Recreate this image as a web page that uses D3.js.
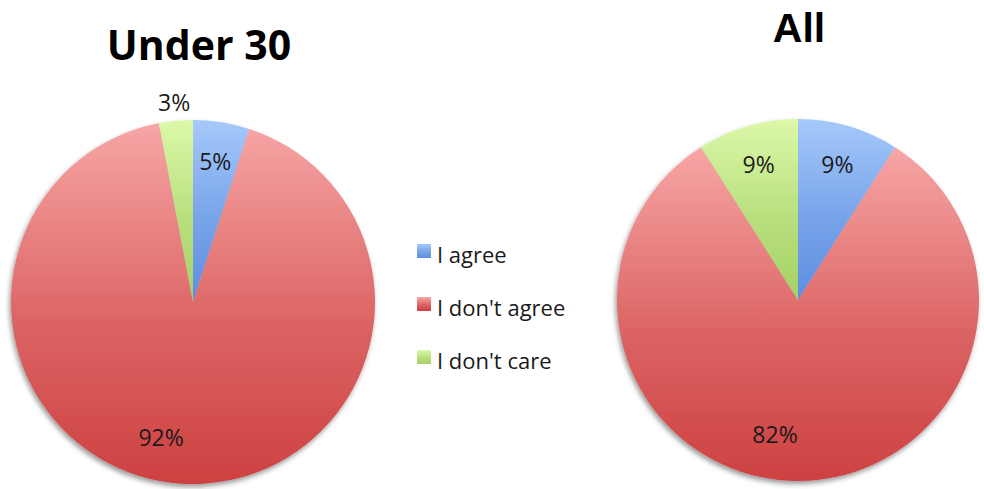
<!DOCTYPE html>
<html>
<head>
<meta charset="utf-8">
<script src="https://cdn.jsdelivr.net/npm/d3@7"></script>
<style>
  body { margin: 0; background: #fff; }
  svg { display: block; }
</style>
</head>
<body>
<div id="chart"></div>
<script>
// Data
var categories = ["I agree", "I don't agree", "I don't care"];
var under30Values = [5, 92, 3];
var allValues = [9, 82, 9];
var chartTitles = ["Under 30", "All"];

var width = 984, height = 489;

var svg = d3.select("#chart")
    .append("svg")
    .attr("width", width)
    .attr("height", height);

var defs = svg.append("defs");

// Vertical gradients per category, light at top, dark at bottom
var gradStops = [
    ["#a6c9fa", "#5d8ee0"],
    ["#f7a6a6", "#cd4141"],
    ["#dcf8a9", "#a5d166"]
];
gradStops.forEach(function (s, i) {
    var g = defs.append("linearGradient")
        .attr("id", "grad" + i)
        .attr("x1", 0).attr("y1", 0)
        .attr("x2", 0).attr("y2", 1);
    g.append("stop").attr("offset", "0%").attr("stop-color", s[0]);
    g.append("stop").attr("offset", "55%").attr("stop-color", d3.interpolateRgb(s[0], s[1])(0.65));
    g.append("stop").attr("offset", "100%").attr("stop-color", s[1]);
});

// soft drop shadow
var f = defs.append("filter").attr("id", "shadow")
    .attr("x", "-10%").attr("y", "-10%").attr("width", "120%").attr("height", "120%");
f.append("feDropShadow")
    .attr("dx", -1.5).attr("dy", 3)
    .attr("stdDeviation", 2.5)
    .attr("flood-color", "#000")
    .attr("flood-opacity", 0.4);

var color = d3.scaleOrdinal()
    .domain(categories)
    .range(categories.map(function (d, i) { return "url(#grad" + i + ")"; }));

var pie = d3.pie().sort(null).value(function (d) { return d.value; });

function drawPie(values, cx, cy, r, title, titleFont, titleSize, titleX, titleY, outsideIdx) {
    var g = svg.append("g").attr("transform", "translate(" + cx + "," + cy + ")");
    var data = categories.map(function (c, i) { return {key: c, value: values[i]}; });
    var arcs = pie(data);
    var arc = d3.arc().innerRadius(0).outerRadius(r);

    var slices = g.append("g").attr("filter", "url(#shadow)");
    slices.selectAll("path")
        .data(arcs)
        .enter()
        .append("path")
        .attr("d", arc)
        .attr("fill", function (d) { return color(d.data.key); });

    var labelArc = d3.arc().innerRadius(r * 0.78).outerRadius(r * 0.78);
    var outArc = d3.arc().innerRadius(r + 18).outerRadius(r + 18);

    g.selectAll("text.lbl")
        .data(arcs)
        .enter()
        .append("text")
        .attr("class", "lbl")
        .attr("transform", function (d, i) {
            var c = (i === outsideIdx) ? outArc.centroid(d) : labelArc.centroid(d);
            // best-fit style: big slice label sits left of the bottom
            if (c[1] > r * 0.5) { c[0] -= 23; c[1] -= 6; }
            return "translate(" + c[0] + "," + c[1] + ")";
        })
        .attr("text-anchor", "middle")
        .attr("dy", "0.36em")
        .style("font-family", "'Open Sans', sans-serif")
        .style("font-size", "23px")
        .style("fill", "#1a1a1a")
        .text(function (d) { return d.data.value + "%"; });

    svg.append("text")
        .attr("x", titleX)
        .attr("y", titleY)
        .attr("text-anchor", "middle")
        .style("font-family", titleFont)
        .style("font-weight", "bold")
        .style("font-size", titleSize + "px")
        .style("fill", "#000")
        .text(title);
}

drawPie(under30Values, 193, 302, 182, chartTitles[0], "'Open Sans', sans-serif", 41, 199, 60, 2);
drawPie(allValues, 798, 300, 181, chartTitles[1], "'Liberation Sans', Arial, sans-serif", 41, 799, 42, -1);

// Legend
var legend = svg.append("g").attr("transform", "translate(417,251)");
var rows = legend.selectAll("g")
    .data(categories)
    .enter()
    .append("g")
    .attr("transform", function (d, i) { return "translate(0," + (i * 53) + ")"; });

rows.append("rect")
    .attr("x", 0).attr("y", -7)
    .attr("width", 14).attr("height", 14)
    .attr("fill", function (d) { return color(d); });

rows.append("text")
    .attr("x", 20)
    .attr("y", 12)
    .style("font-family", "'Open Sans', sans-serif")
    .style("font-size", "22px")
    .style("fill", "#1a1a1a")
    .text(function (d) { return d; });
</script>
</body>
</html>
